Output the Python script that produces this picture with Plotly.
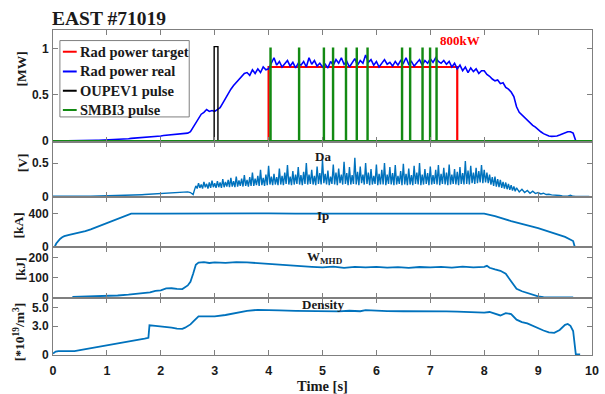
import plotly.graph_objects as go

# ---------------- data ----------------
TIME_TICKS = [0, 1, 2, 3, 4, 5, 6, 7, 8, 9, 10]

# Rad power real [MW], sampled every 0.05 s from t = 0.00 s to 9.70 s
RAD_DT = 0.05
RAD_REAL = [
    0, 0, 0, 0, 0, 0, 0.002, 0.002, 0.003, 0.004, 0.004, 0.005, 0.006, 0.006, 0.007, 0.008, 0.008, 0.009, 0.01, 0.01,
    0.012, 0.015, 0.02, 0.022, 0.018, 0.02, 0.022, 0.025, 0.025, 0.028, 0.03, 0.032, 0.034, 0.035, 0.038, 0.04, 0.042, 0.045, 0.05, 0.048,
    0.055, 0.06, 0.062, 0.065, 0.07, 0.072, 0.075, 0.078, 0.08, 0.08, 0.085, 0.1, 0.15, 0.2, 0.25, 0.29, 0.31, 0.34, 0.32, 0.33,
    0.32, 0.34, 0.36, 0.41, 0.46, 0.52, 0.56, 0.6, 0.63, 0.67, 0.7, 0.73, 0.74, 0.71, 0.77, 0.73, 0.78, 0.74, 0.8, 0.77,
    0.78, 0.84, 0.9, 0.82, 0.86, 0.8, 0.83, 0.87, 0.81, 0.85, 0.79, 0.84, 0.82, 0.86, 0.8, 0.9, 0.83, 0.87, 0.81, 0.84,
    0.8, 0.83, 0.79, 0.86, 0.82, 0.88, 0.84, 0.9, 0.83, 0.86, 0.8, 0.85, 0.89, 0.82, 0.87, 0.84, 0.93, 0.85, 0.88, 0.82,
    0.86, 0.8, 0.84, 0.88, 0.83, 0.85, 0.81, 0.86, 0.82, 0.87, 0.84, 0.9, 0.83, 0.86, 0.81, 0.85, 0.88, 0.82, 0.87, 0.84,
    0.89, 0.85, 0.9, 0.86, 0.84, 0.87, 0.83, 0.86, 0.8, 0.84, 0.78, 0.82, 0.76, 0.8, 0.74, 0.79, 0.75, 0.78, 0.73, 0.76,
    0.76, 0.72, 0.7, 0.67, 0.65, 0.66, 0.62, 0.63, 0.58, 0.56, 0.53, 0.48, 0.37, 0.31, 0.28, 0.25, 0.22, 0.19, 0.17, 0.15,
    0.12, 0.1, 0.08, 0.065, 0.055, 0.05, 0.05, 0.055, 0.065, 0.075, 0.09, 0.1, 0.1, 0.085, 0.0,
]

# Rad power target (step waveform) [MW]
TARGET_ON = 4.0
TARGET_OFF = 7.5
TARGET_LEVEL = 0.8

# OUPEV1 pulse
OUPEV1_ON = 2.99
OUPEV1_OFF = 3.06
OUPEV1_LEVEL = 1.02

# SMBI3 pulse times [s] and height
SMBI3_TIMES = [4.03, 4.56, 5.02, 5.19, 5.43, 5.63, 5.83, 6.47, 6.62, 6.85, 6.99, 7.11]
SMBI3_WIDTH = 0.012
SMBI3_LEVEL = 1.0

# D-alpha [V]: three sampled pieces (start time, step, values)
DA_EARLY_T0, DA_EARLY_DT = 0.0, 0.05          # 0.00 .. 2.55 s
DA_EARLY = [
    0.006, 0.005, 0.006, 0.005, 0.005, 0.006, 0.005, 0.005, 0.006, 0.005, 0.005, 0.005, 0.006, 0.005, 0.005, 0.006, 0.005, 0.005, 0.006, 0.006,
    0.006, 0.006, 0.007, 0.008, 0.009, 0.01, 0.011, 0.013, 0.015, 0.017, 0.02, 0.022, 0.025, 0.028, 0.03, 0.033, 0.036, 0.04, 0.043, 0.046,
    0.05, 0.052, 0.055, 0.058, 0.06, 0.062, 0.065, 0.068, 0.07, 0.072, 0.07, 0.06,
]
DA_MID_T0, DA_MID_DT = 2.6, 0.025             # 2.600 .. 8.575 s
DA_MID = [
    0.03, 0.1, 0.16, 0.12, 0.2, 0.13, 0.18, 0.12, 0.22, 0.14, 0.19, 0.12, 0.21, 0.13, 0.24, 0.14, 0.2, 0.13, 0.23, 0.14,
    0.21, 0.13, 0.26, 0.14, 0.22, 0.15, 0.25, 0.14, 0.28, 0.15, 0.23, 0.14, 0.3, 0.15, 0.24, 0.16, 0.27, 0.15, 0.32, 0.16,
    0.25, 0.15, 0.29, 0.16, 0.36, 0.16, 0.27, 0.17, 0.31, 0.16, 0.4, 0.17, 0.28, 0.16, 0.33, 0.17, 0.46, 0.18, 0.3, 0.17,
    0.34, 0.18, 0.29, 0.17, 0.42, 0.18, 0.31, 0.17, 0.36, 0.19, 0.47, 0.18, 0.3, 0.17, 0.38, 0.18, 0.33, 0.19, 0.44, 0.18,
    0.32, 0.17, 0.37, 0.19, 0.5, 0.18, 0.33, 0.19, 0.4, 0.18, 0.31, 0.17, 0.45, 0.19, 0.35, 0.18, 0.55, 0.2, 0.34, 0.18,
    0.39, 0.17, 0.3, 0.19, 0.48, 0.18, 0.36, 0.17, 0.42, 0.2, 0.33, 0.18, 0.52, 0.19, 0.35, 0.17, 0.44, 0.18, 0.32, 0.19,
    0.58, 0.18, 0.37, 0.17, 0.45, 0.2, 0.33, 0.18, 0.5, 0.19, 0.36, 0.17, 0.41, 0.18, 0.31, 0.19, 0.48, 0.17, 0.34, 0.18,
    0.4, 0.18, 0.5, 0.17, 0.33, 0.19, 0.44, 0.18, 0.35, 0.17, 0.47, 0.18, 0.31, 0.19, 0.38, 0.17, 0.49, 0.18, 0.34, 0.17,
    0.42, 0.18, 0.32, 0.17, 0.46, 0.19, 0.36, 0.18, 0.5, 0.17, 0.33, 0.18, 0.41, 0.19, 0.35, 0.17, 0.45, 0.18, 0.32, 0.19,
    0.4, 0.18, 0.47, 0.17, 0.34, 0.19, 0.43, 0.18, 0.36, 0.17, 0.48, 0.18, 0.33, 0.19, 0.41, 0.18, 0.37, 0.17, 0.44, 0.19,
    0.35, 0.18, 0.53, 0.19, 0.39, 0.18, 0.46, 0.2, 0.36, 0.19, 0.43, 0.2, 0.38, 0.21, 0.47, 0.2, 0.4, 0.21, 0.36, 0.2,
    0.33, 0.18, 0.29, 0.16, 0.3, 0.15, 0.26, 0.14, 0.25, 0.13, 0.22, 0.12, 0.21, 0.11, 0.19, 0.1, 0.17, 0.09, 0.15, 0.08,
]
DA_LATE_T0, DA_LATE_DT = 8.6, 0.05            # 8.60 .. 9.95 s
DA_LATE = [
    0.13, 0.07, 0.11, 0.06, 0.09, 0.05, 0.08, 0.045, 0.06, 0.04, 0.05, 0.03, 0.035, 0.025, 0.025, 0.015, 0.015, 0.01,
    0.008, 0.006, 0.02, 0.004, 0.003, 0.002, 0.002, 0.002, 0.002, 0.002,
]

# Plasma current Ip [kA]
IP_T = [0, 0.03, 0.06, 0.09, 0.13, 0.17, 0.21, 0.3, 0.4, 0.5, 0.6, 0.7, 0.8, 0.9, 1.0, 1.1, 1.2, 1.3, 1.4, 1.45,
        2.0, 2.5, 3.0, 3.3, 3.5, 4.0, 4.5, 5.0, 5.5, 6.0, 6.5, 7.0, 7.5, 8.0, 8.2, 8.5, 9.0, 9.5, 9.65, 9.68, 10.0]
IP = [0, 0, 40, 65, 95, 115, 128, 145, 158, 172, 190, 210, 235, 260, 285, 310, 335, 362, 392, 400,
      400, 402, 405, 408, 404, 402, 400, 400, 398, 400, 399, 400, 400, 400, 368, 310, 225, 120, 70, 0, 0]

# Stored energy W_MHD [kJ]
W_T = [0.36, 0.5, 0.7, 0.8, 1.0, 1.2, 1.4, 1.6, 1.8, 1.9, 2.0, 2.1, 2.2, 2.3, 2.4, 2.5, 2.55, 2.6, 2.65, 2.7,
       2.8, 2.9, 3.0, 3.2, 3.4, 3.6, 3.8, 4.0, 4.2, 4.4, 4.6, 4.8, 5.0, 5.2, 5.4, 5.6, 5.8, 6.0, 6.2, 6.4,
       6.6, 6.8, 7.0, 7.2, 7.4, 7.6, 7.8, 8.0, 8.05, 8.1, 8.2, 8.3, 8.4, 8.45, 8.5, 8.55, 8.6, 8.7, 8.8, 8.9,
       9.0, 9.1, 9.2, 9.3, 9.4, 9.5, 9.6, 9.65]
W_MHD = [5, 6, 5, 7, 8, 12, 16, 21, 27, 35, 37, 47, 48, 45, 44, 62, 80, 120, 165, 176,
         178, 174, 177, 175, 178, 177, 173, 168, 165, 160, 158, 155, 152, 156, 150, 155, 152, 155, 151, 153,
         150, 154, 152, 155, 151, 156, 152, 155, 160, 150, 142, 135, 120, 100, 85, 60, 45, 33, 24, 15,
         8, 4, 3, 2, 3, 2, 3, 2]

# Density [1e19 m^-3]
NE_T = [0, 0.05, 0.1, 0.2, 0.3, 0.4, 0.5, 0.6, 0.7, 0.8, 0.9, 1.0, 1.1, 1.2, 1.3, 1.4, 1.5, 1.6, 1.7, 1.77,
        1.79, 1.9, 2.0, 2.1, 2.2, 2.3, 2.4, 2.45, 2.5, 2.55, 2.6, 2.65, 2.7, 2.8, 2.9, 3.0, 3.2, 3.4, 3.6, 3.8,
        4.0, 4.2, 4.5, 4.8, 5.0, 5.3, 5.5, 5.7, 5.8, 6.0, 6.2, 6.5, 6.8, 7.0, 7.3, 7.5, 7.8, 8.0, 8.1, 8.2,
        8.3, 8.4, 8.5, 8.6, 8.7, 8.8, 8.9, 9.0, 9.1, 9.2, 9.3, 9.4, 9.5, 9.55, 9.6, 9.65, 9.68, 9.7, 9.78]
NE = [0.1, 0.3, 0.35, 0.35, 0.3, 0.35, 0.45, 0.55, 0.6, 0.7, 0.8, 0.9, 1.0, 1.1, 1.22, 1.32, 1.42, 1.55, 1.68, 1.77,
      3.1, 3.05, 3.0, 2.95, 2.85, 2.75, 2.72, 2.85, 3.0, 3.2, 3.5, 3.8, 4.05, 4.05, 4.02, 4.05, 4.2, 4.45, 4.65, 4.75,
      4.75, 4.7, 4.65, 4.6, 4.62, 4.58, 4.65, 4.6, 4.72, 4.65, 4.62, 4.6, 4.62, 4.6, 4.58, 4.55, 4.5, 4.45, 4.52, 4.35,
      4.15, 4.4, 4.3, 3.7, 3.45, 3.3, 3.05, 2.75, 2.55, 2.35, 2.3, 2.6, 3.15, 3.25, 3.05, 2.5, 0.8, 0.0, 0.0]

# ---------------- derived series ----------------
rad_t = [round(i * RAD_DT, 4) for i in range(len(RAD_REAL))]

da_t, da_v = [], []
for t0, dt, vals in [(DA_EARLY_T0, DA_EARLY_DT, DA_EARLY), (DA_MID_T0, DA_MID_DT, DA_MID),
                     (DA_LATE_T0, DA_LATE_DT, DA_LATE)]:
    da_t += [round(t0 + i * dt, 4) for i in range(len(vals))]
    da_v += vals

tgt_x = [0, TARGET_ON, TARGET_ON, TARGET_OFF, TARGET_OFF, 10]
tgt_y = [0, 0, TARGET_LEVEL, TARGET_LEVEL, 0, 0]

oup_x = [0, OUPEV1_ON, OUPEV1_ON, OUPEV1_OFF, OUPEV1_OFF, 10]
oup_y = [0, 0, OUPEV1_LEVEL, OUPEV1_LEVEL, 0, 0]

smbi_x, smbi_y = [0], [0]
for ts in SMBI3_TIMES:
    smbi_x += [ts, ts, ts + SMBI3_WIDTH, ts + SMBI3_WIDTH]
    smbi_y += [0, SMBI3_LEVEL, SMBI3_LEVEL, 0]
smbi_x.append(10)
smbi_y.append(0)

# ---------------- figure ----------------
MATLAB_BLUE = '#0072BD'
AX_GRAY = '#7f7f7f'
TXT = '#1a1a1a'
SERIF = 'Liberation Serif'
SANS = 'Liberation Sans'

SERIES_P1 = [
    ('Rad power target', tgt_x, tgt_y, '#FF0000', 2.2),
    ('Rad power real', rad_t, RAD_REAL, '#0000FF', 1.6),
    ('OUPEV1 pulse', oup_x, oup_y, '#000000', 1.4),
    ('SMBI3 pulse', smbi_x, smbi_y, '#138A13', 1.8),
]

fig = go.Figure()
for name, xs, ys, col, w in SERIES_P1:
    fig.add_trace(go.Scatter(x=xs, y=ys, name=name, mode='lines', showlegend=False,
                             line=dict(color=col, width=w), xaxis='x', yaxis='y'))

fig.add_trace(go.Scatter(x=da_t, y=da_v, mode='lines', showlegend=False,
                         line=dict(color=MATLAB_BLUE, width=1.4), xaxis='x2', yaxis='y2'))
fig.add_trace(go.Scatter(x=IP_T, y=IP, mode='lines', showlegend=False,
                         line=dict(color=MATLAB_BLUE, width=1.8), xaxis='x3', yaxis='y3'))
fig.add_trace(go.Scatter(x=W_T, y=W_MHD, mode='lines', showlegend=False,
                         line=dict(color=MATLAB_BLUE, width=1.8), xaxis='x4', yaxis='y4'))
fig.add_trace(go.Scatter(x=NE_T, y=NE, mode='lines', showlegend=False,
                         line=dict(color=MATLAB_BLUE, width=1.8), xaxis='x5', yaxis='y5'))

tick_font = dict(family=SANS, size=12, color=TXT, weight='bold')

common_axis = dict(showline=True, linecolor=AX_GRAY, linewidth=1, mirror='allticks',
                   ticks='inside', ticklen=5, tickwidth=1, tickcolor=AX_GRAY,
                   showgrid=False, zeroline=False, tickfont=tick_font)

domains = [[0.655, 1.0], [0.4863, 0.655], [0.3313, 0.4863], [0.1742, 0.3313], [0.0, 0.1742]]
yranges = [[-0.012, 1.2], [-0.006, 0.815], [-6, 600], [-2.5, 252], [-0.06, 5.97]]
yticks = [([0, 0.5, 1], ['0', '0.5', '1']),
          ([0, 0.5], ['0', '0.5']),
          ([0, 400], ['0', '400']),
          ([0, 100, 200], ['0', '100', '200']),
          ([0, 3, 5], ['0', '3.0', '5.0'])]

layout = dict(
    width=605, height=394,
    margin=dict(l=53, r=6, t=30, b=35, pad=0),
    paper_bgcolor='white', plot_bgcolor='white',
    showlegend=False,
)

for i in range(5):
    k = '' if i == 0 else str(i + 1)
    xa = dict(common_axis, domain=[0, 1], anchor='y' + k, range=[0, 10],
              tickvals=TIME_TICKS, showticklabels=(i == 4))
    if i > 0:
        xa['matches'] = 'x'
    if i == 4:
        xa['ticklabelstandoff'] = 4
        xa['tickfont'] = dict(tick_font, size=12.5)
        xa['title'] = dict(text='Time [s]', standoff=0,
                           font=dict(family=SERIF, size=14.5, color=TXT, weight='bold'))
    ya = dict(common_axis, domain=domains[i], anchor='x' + k, range=yranges[i],
              tickvals=yticks[i][0], ticktext=yticks[i][1], ticklabelstandoff=1)
    layout['xaxis' + k] = xa
    layout['yaxis' + k] = ya

fig.update_layout(**layout)


def serif_bold(s, c=TXT):
    return dict(family=SERIF, size=s, color=c, weight='bold')


# px -> paper helpers for layout furniture (plot area 53..599 x, 30..359 y)
def px_x(px):
    return (px - 53) / 546.0


def px_y(py):
    return (359 - py) / 329.0


annotations = [
    dict(text='EAST #71019', xref='paper', yref='paper', x=px_x(110), y=px_y(18),
         xanchor='center', yanchor='middle', showarrow=False, font=serif_bold(19.5)),
    dict(text='800kW', xref='x', yref='y', x=7.55, y=1.09,
         xanchor='center', yanchor='middle', showarrow=False, font=serif_bold(13, '#FF0000')),
    dict(text='Da', xref='paper', yref='paper', x=0.5, y=px_y(158),
         xanchor='center', yanchor='middle', showarrow=False, font=serif_bold(13)),
    dict(text='Ip', xref='paper', yref='paper', x=0.5, y=px_y(218),
         xanchor='center', yanchor='middle', showarrow=False, font=serif_bold(13)),
    dict(text='W<sub>MHD</sub>', xref='paper', yref='paper', x=0.505, y=px_y(260),
         xanchor='center', yanchor='middle', showarrow=False, font=serif_bold(13)),
    dict(text='Density', xref='paper', yref='paper', x=0.5, y=px_y(308),
         xanchor='center', yanchor='middle', showarrow=False, font=serif_bold(13)),
    # y-axis titles
    dict(text='[MW]', xref='paper', yref='paper', x=px_x(21.5), y=px_y(69), textangle=-90,
         xanchor='center', yanchor='middle', showarrow=False, font=serif_bold(13.5)),
    dict(text='[V]', xref='paper', yref='paper', x=px_x(21.5), y=px_y(164), textangle=-90,
         xanchor='center', yanchor='middle', showarrow=False, font=serif_bold(13.5)),
    dict(text='[kA]', xref='paper', yref='paper', x=px_x(18.5), y=px_y(228), textangle=-90,
         xanchor='center', yanchor='middle', showarrow=False, font=serif_bold(13.5)),
    dict(text='[kJ]', xref='paper', yref='paper', x=px_x(20), y=px_y(272), textangle=-90,
         xanchor='center', yanchor='middle', showarrow=False, font=serif_bold(13.5)),
    dict(text='[*10<sup>19</sup>/m<sup>3</sup>]', xref='paper', yref='paper', x=px_x(18.5), y=px_y(336),
         textangle=-90, xanchor='center', yanchor='middle', showarrow=False, font=serif_bold(13.5)),
]

# legend box (drawn as layout furniture so that its compact MATLAB look is kept)
shapes = [dict(type='rect', xref='paper', yref='paper', x0=px_x(60), x1=px_x(191),
               y0=px_y(118), y1=px_y(40.7), fillcolor='white', line=dict(color=AX_GRAY, width=1),
               layer='above')]
row_py = [52, 72, 91.5, 111]
for (name, _, _, col, w), py in zip(SERIES_P1, row_py):
    shapes.append(dict(type='line', xref='paper', yref='paper', x0=px_x(63), x1=px_x(77),
                       y0=px_y(py), y1=px_y(py), line=dict(color=col, width=2), layer='above'))
    annotations.append(dict(text=name, xref='paper', yref='paper', x=px_x(78.5), y=px_y(py),
                            xanchor='left', yanchor='middle', showarrow=False, font=serif_bold(14.5)))

fig.update_layout(annotations=annotations, shapes=shapes)

fig.write_html('out.html')
